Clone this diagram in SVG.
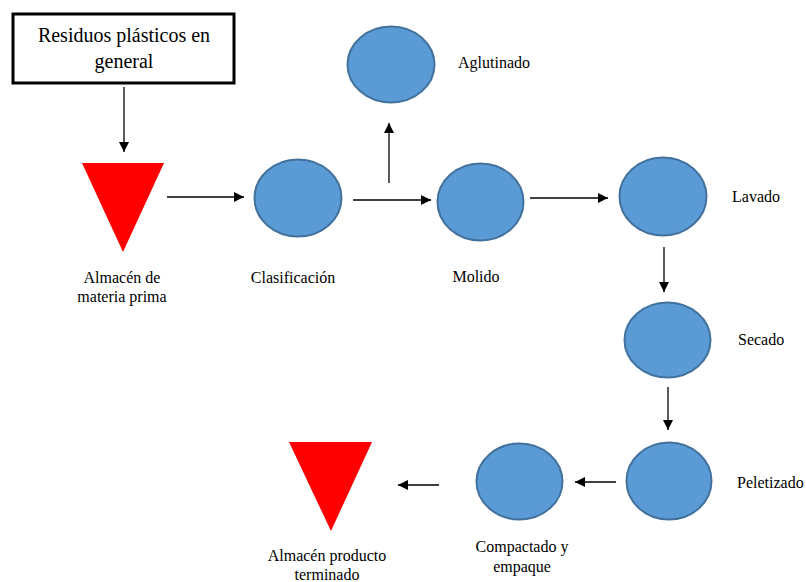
<svg xmlns="http://www.w3.org/2000/svg" width="806" height="582" viewBox="0 0 806 582">
<defs>
<marker id="ah" viewBox="0 0 10 10" refX="10" refY="5" markerWidth="10" markerHeight="10" markerUnits="userSpaceOnUse" orient="auto">
<path d="M0,0 L10,5 L0,10 z" fill="#000"/>
</marker>
<style>
.proc{fill:#5B9BD5;stroke:#41719C;stroke-width:2}
.store{fill:#FF0000}
.lbl{font-family:"Liberation Serif","Times New Roman",serif;font-size:16px;fill:#000}
.conn line{stroke:#000;stroke-width:1.3;marker-end:url(#ah)}
</style>
</defs>
<rect width="806" height="582" fill="#fff"/>
<g id="residuos">
<rect x="13" y="14" width="221" height="69" fill="#fff" stroke="#000" stroke-width="3"/>
<text class="lbl" style="font-size:20px" x="124" y="42" text-anchor="middle">Residuos plásticos en</text>
<text class="lbl" style="font-size:20px" x="124" y="68" text-anchor="middle">general</text>
</g>
<g id="almacen-mp">
<polygon class="store" points="82,163 164,163 123,252"/>
<text class="lbl" x="122" y="283" text-anchor="middle">Almacén de</text>
<text class="lbl" x="122" y="302" text-anchor="middle">materia prima</text>
</g>
<g id="clasificacion">
<ellipse class="proc" cx="298" cy="198" rx="43.5" ry="38.5"/>
<text class="lbl" x="293" y="283" text-anchor="middle">Clasificación</text>
</g>
<g id="aglutinado">
<ellipse class="proc" cx="391" cy="64.5" rx="43.5" ry="38"/>
<text class="lbl" x="458" y="68">Aglutinado</text>
</g>
<g id="molido">
<ellipse class="proc" cx="480.5" cy="202" rx="43" ry="38.5"/>
<text class="lbl" x="476" y="282" text-anchor="middle">Molido</text>
</g>
<g id="lavado">
<ellipse class="proc" cx="663" cy="196.5" rx="43.5" ry="39"/>
<text class="lbl" x="732" y="202">Lavado</text>
</g>
<g id="secado">
<ellipse class="proc" cx="667.5" cy="340" rx="43" ry="37.5"/>
<text class="lbl" x="738" y="345">Secado</text>
</g>
<g id="peletizado">
<ellipse class="proc" cx="669" cy="481" rx="42.5" ry="38.5"/>
<text class="lbl" x="737" y="488">Peletizado</text>
</g>
<g id="compactado">
<ellipse class="proc" cx="519.5" cy="481.5" rx="43" ry="38"/>
<text class="lbl" x="522" y="552" text-anchor="middle">Compactado y</text>
<text class="lbl" x="522" y="572" text-anchor="middle">empaque</text>
</g>
<g id="almacen-pt">
<polygon class="store" points="289,442 372,442 331,531"/>
<text class="lbl" x="327" y="561" text-anchor="middle">Almacén producto</text>
<text class="lbl" x="327" y="580" text-anchor="middle">terminado</text>
</g>
<g id="connectors" class="conn">
<line x1="124" y1="87" x2="124" y2="152"/>
<line x1="167" y1="197" x2="244" y2="197"/>
<line x1="353" y1="200" x2="431" y2="200"/>
<line x1="389" y1="183" x2="389" y2="123"/>
<line x1="530" y1="198" x2="608" y2="198"/>
<line x1="664" y1="247" x2="664" y2="292"/>
<line x1="668" y1="387" x2="668" y2="430"/>
<line x1="616" y1="482" x2="575" y2="482"/>
<line x1="439" y1="485" x2="398" y2="485"/>
</g>
</svg>
